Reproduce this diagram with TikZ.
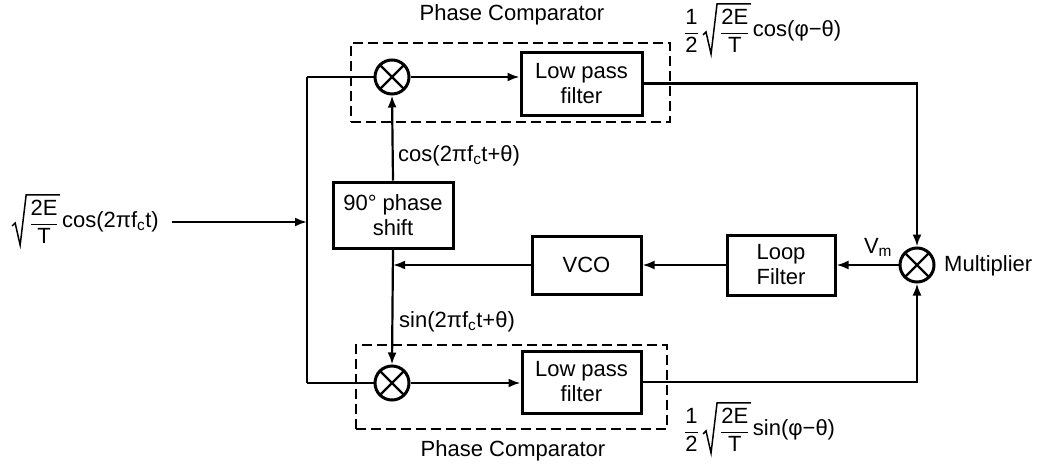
\documentclass[tikz,border=0pt]{standalone}
\usepackage{amsmath}
\usepackage{fontspec}
\setmainfont{Liberation Sans}
\usetikzlibrary{arrows.meta,calc}
\newcommand{\fracET}{$\dfrac{\text{2E}}{\text{T}}$}
\newcommand{\fracHalf}{$\dfrac{\text{1}}{\text{2}}$}
\newcommand{\drawradical}[1]{%
  \draw[rad] ($(#1.west)+(-17,4)$) -- ($(#1.west)+(-14,1)$)
    -- ($(#1.south west)+(-9,1)$) -- ($(#1.north west)+(-3,-5)$)
    -- ($(#1.north east)+(1,-5)$);}
\begin{document}
\begin{tikzpicture}[x=1pt,y=-1pt,
  font=\fontsize{22}{25}\selectfont,
  blk/.style={draw, line width=3pt, align=center, inner sep=0pt},
  mix/.style={circle, draw, line width=3pt, minimum size=34pt, inner sep=0pt,
    path picture={\draw[line width=2.4pt]
      (path picture bounding box.north west) -- (path picture bounding box.south east)
      (path picture bounding box.north east) -- (path picture bounding box.south west);}},
  conn/.style={line width=2.2pt},
  arr/.style={conn, -{Latex[length=12pt,width=9pt]}},
  dbox/.style={draw, line width=2.6pt, dash pattern=on 10pt off 5pt},
  rad/.style={line width=1.5pt, line join=miter},
  lbl/.style={inner sep=0pt}]
\useasboundingbox (0,0) rectangle (1040,463);

% dashed phase comparator boxes
\node[dbox, minimum width=319pt, minimum height=79pt, inner sep=0pt] (pc1) at (510.5,82.5) {};
\node[dbox, minimum width=311pt, minimum height=84pt, inner sep=0pt] (pc2) at (511.5,387) {};
\node (pc1t) at (512,15) {Phase Comparator};
\node (pc2t) at (513,451) {Phase Comparator};

% blocks
\node[mix] (m1) at (392,77) {};
\node[mix] (m2) at (392,383) {};
\node[mix] (m3) at (917,265) {};
\node[blk, minimum width=121pt, minimum height=63pt] (lpf1) at (581.5,83.5) {Low pass\\filter};
\node[blk, minimum width=119pt, minimum height=62pt] (lpf2) at (581.5,382) {Low pass\\filter};
\node[blk, minimum width=120pt, minimum height=66pt] (ps) at (393,215) {90° phase\\shift};
\node[blk, minimum width=109pt, minimum height=58pt] (vco) at (586.5,265) {VCO};
\node[blk, minimum width=108pt, minimum height=60pt] (lf) at (781,265) {Loop\\Filter};

% input label
\node[lbl] (fi) at (44,222) {\fracET};
\node[lbl, anchor=west] (ti) at ([xshift=3pt]fi.east) {cos(2πf\textsubscript{c}t)};
\drawradical{fi}

% top output label
\node[lbl, anchor=west] (h1) at (684,31) {\fracHalf};
\node[lbl, anchor=west] (f1) at ([xshift=21pt]h1.east) {\fracET};
\node[lbl, anchor=west] (t1) at ([xshift=3pt]f1.east) {cos(φ−θ)};
\drawradical{f1}

% bottom output label
\node[lbl, anchor=west] (h2) at (684,430) {\fracHalf};
\node[lbl, anchor=west] (f2) at ([xshift=21pt]h2.east) {\fracET};
\node[lbl, anchor=west] (t2) at ([xshift=3pt]f2.east) {sin(φ−θ)};
\drawradical{f2}

% other labels
\node[lbl, anchor=west] (cosl) at (398,156) {cos(2πf\textsubscript{c}t+θ)};
\node[lbl, anchor=west] (sinl) at (399,322) {sin(2πf\textsubscript{c}t+θ)};
\node[lbl] (vm) at (878,247) {V\textsubscript{m}};
\node[lbl, anchor=west] (mult) at (944,266) {Multiplier};

% coordinates
\coordinate (inS) at (172,222);
\coordinate (jn) at (307,222);
\coordinate (jt) at (307,77);
\coordinate (jb) at (307,383);
\coordinate (vj) at (393,265);

% connectors
\draw[arr] (inS) -- (jn);
\draw[conn] (jt) -- (jb);
\draw[conn] (jt) -- (m1.west);
\draw[conn] (jb) -- (m2.west);
\draw[arr] (m1.east) -- (m1.east -| lpf1.west);
\draw[arr] (m2.east) -- (m2.east -| lpf2.west);
\draw[arr] (ps.north) -- (m1.south);
\draw[arr] (ps.south) -- (m2.north);
\draw[arr] (vco.west) -- (vj);
\draw[arr] (lf.west) -- (vco.east);
\draw[arr] (m3.west) -- (lf.east);
\draw[arr] (lpf1.east) -| (m3.north);
\draw[arr] (lpf2.east) -| (m3.south);
\end{tikzpicture}
\end{document}
